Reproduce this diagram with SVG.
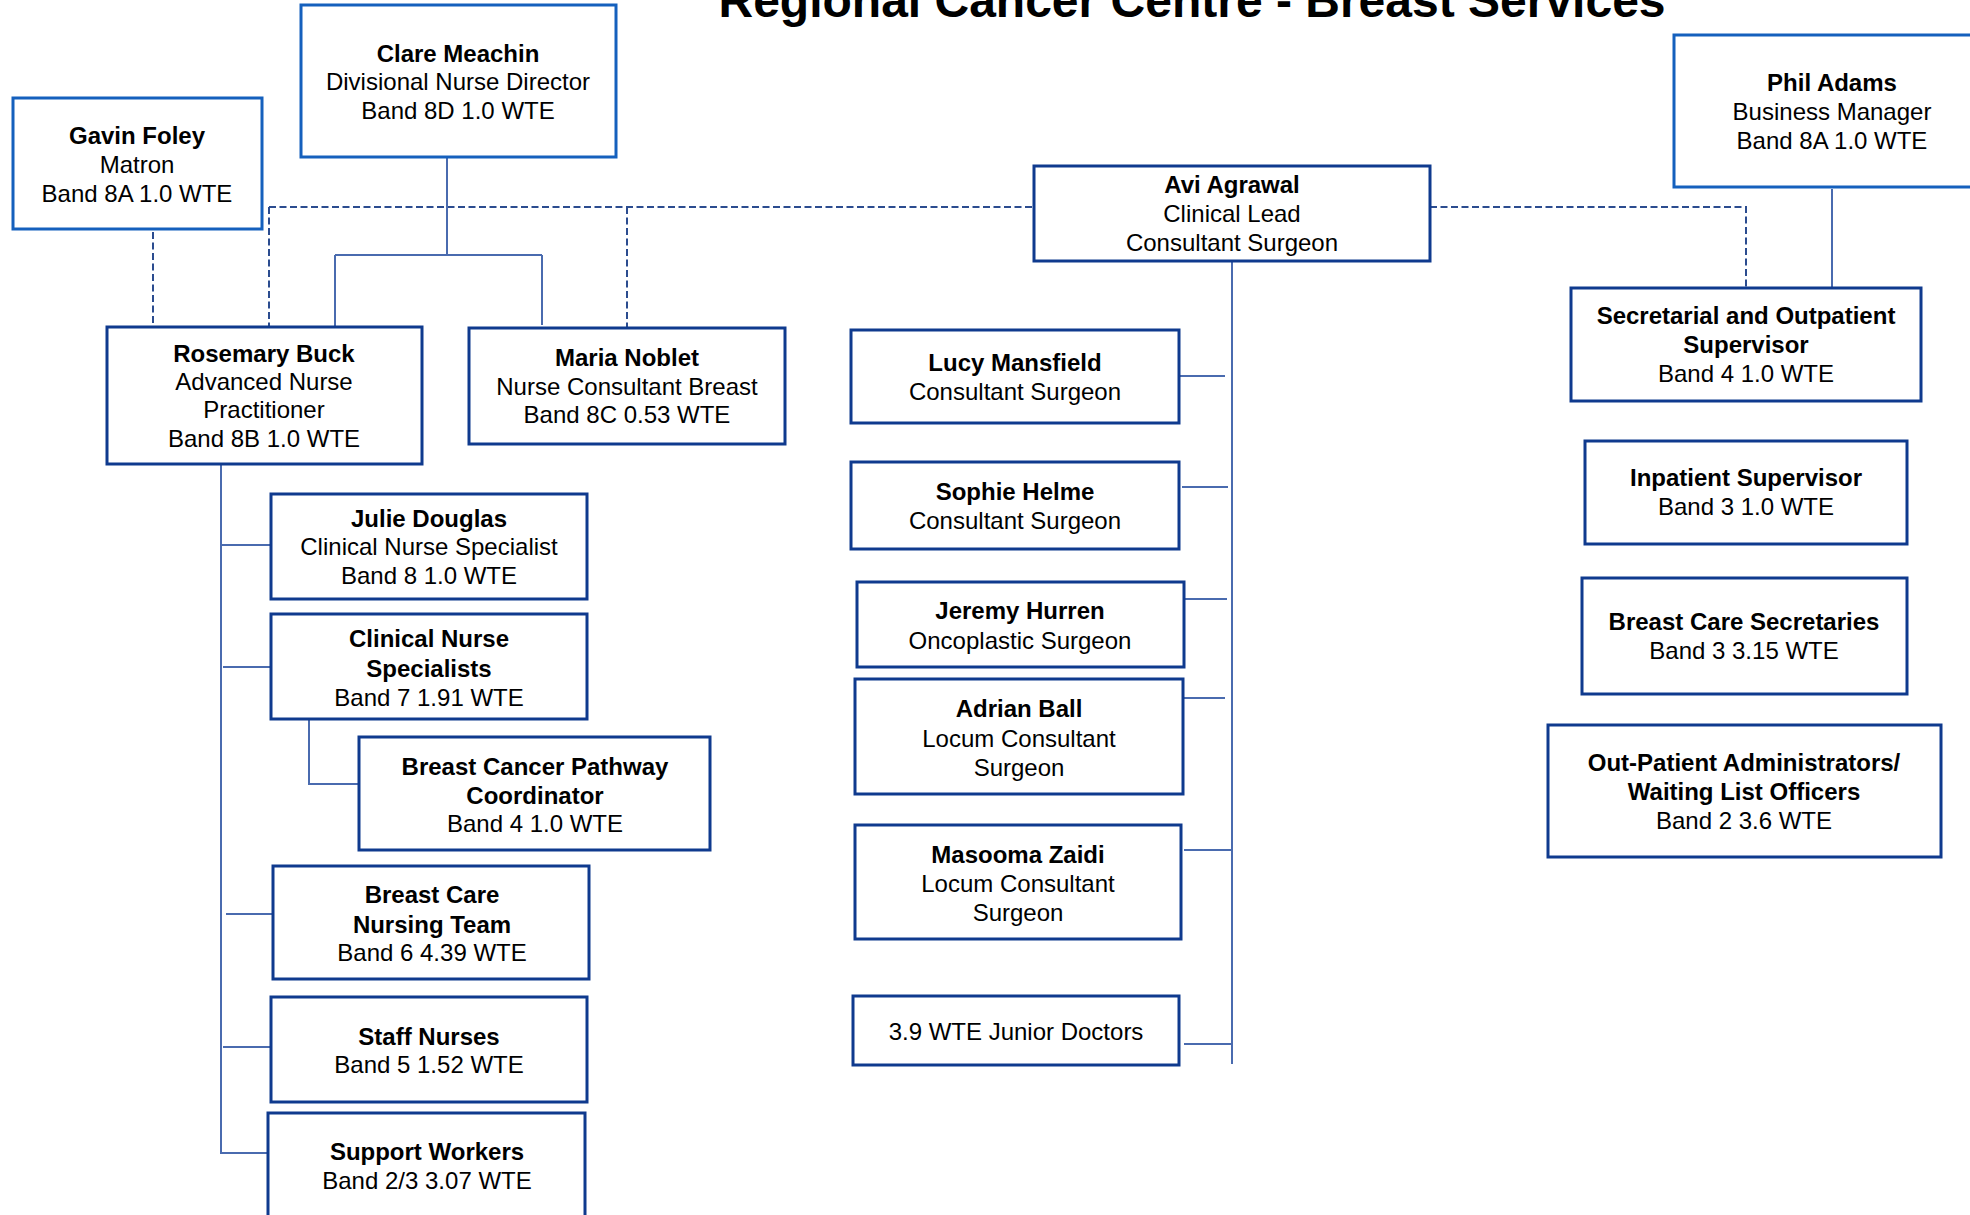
<svg xmlns="http://www.w3.org/2000/svg" width="1970" height="1215" viewBox="0 0 1970 1215">
<style>
text{font-family:"Liberation Sans",Arial,sans-serif;font-size:24px;fill:#000;text-anchor:middle}
.t{font-size:48px;font-weight:bold}
.b{font-weight:bold}
.bx{fill:#fff;stroke:#0F3A8E;stroke-width:3}
.br{fill:#fff;stroke:#1560BD;stroke-width:3}
.ln{fill:none;stroke:#4A6BAF;stroke-width:2}
.ds{fill:none;stroke:#2B4C8F;stroke-width:2;stroke-dasharray:7 3.5}
</style>
<rect width="1970" height="1215" fill="#fff"/>
<text class="t" x="1192" y="17">Regional Cancer Centre - Breast Services</text>
<g id="connectors">
<path class="ds" d="M269,207 H1034 M269,207 V326 M627,207 V328 M1430,207 H1746 V289 M153,232 V349"/>
<path class="ln" d="M447,158 V255 M335,255 H542 M335,255 V328 M542,255 V325"/>
<path class="ln" d="M1232,262 V1064 M1179,376 H1225 M1182,487 H1228 M1178,599 H1227 M1177,698 H1225 M1184,850 H1232 M1184,1044 H1232"/>
<path class="ln" d="M1832,189 V287"/>
<path class="ln" d="M221,465 V1153 H268 M221,545 H271 M223,667 H271 M226,914 H273 M223,1047 H271 M309,719 V784 H359"/>
</g>
<g id="clare"><rect class="br" x="301" y="5" width="315" height="152"/>
<text class="b" x="458" y="62">Clare Meachin</text><text x="458" y="90">Divisional Nurse Director</text><text x="458" y="119">Band 8D 1.0 WTE</text></g>
<g id="gavin"><rect class="br" x="13" y="98" width="249" height="131"/>
<text class="b" x="137" y="144">Gavin Foley</text><text x="137" y="173">Matron</text><text x="137" y="202">Band 8A 1.0 WTE</text></g>
<g id="rosemary"><rect class="bx" x="107" y="327" width="315" height="137"/>
<text class="b" x="264" y="362">Rosemary Buck</text><text x="264" y="390">Advanced Nurse</text><text x="264" y="418">Practitioner</text><text x="264" y="447">Band 8B 1.0 WTE</text></g>
<g id="maria"><rect class="bx" x="469" y="328" width="316" height="116"/>
<text class="b" x="627" y="366">Maria Noblet</text><text x="627" y="395">Nurse Consultant Breast</text><text x="627" y="423">Band 8C 0.53 WTE</text></g>
<g id="avi"><rect class="bx" x="1034" y="166" width="396" height="95"/>
<text class="b" x="1232" y="193">Avi Agrawal</text><text x="1232" y="222">Clinical Lead</text><text x="1232" y="251">Consultant Surgeon</text></g>
<g id="phil"><rect class="br" x="1674" y="35" width="330" height="152"/>
<text class="b" x="1832" y="91">Phil Adams</text><text x="1832" y="120">Business Manager</text><text x="1832" y="149">Band 8A 1.0 WTE</text></g>
<g id="secretarial"><rect class="bx" x="1571" y="288" width="350" height="113"/>
<text class="b" x="1746" y="324">Secretarial and Outpatient</text><text class="b" x="1746" y="353">Supervisor</text><text x="1746" y="382">Band 4 1.0 WTE</text></g>
<g id="inpatient"><rect class="bx" x="1585" y="441" width="322" height="103"/>
<text class="b" x="1746" y="486">Inpatient Supervisor</text><text x="1746" y="515">Band 3 1.0 WTE</text></g>
<g id="bcsec"><rect class="bx" x="1582" y="578" width="325" height="116"/>
<text class="b" x="1744" y="630">Breast Care Secretaries</text><text x="1744" y="659">Band 3 3.15 WTE</text></g>
<g id="outpatient"><rect class="bx" x="1548" y="725" width="393" height="132"/>
<text class="b" x="1744" y="771">Out-Patient Administrators/</text><text class="b" x="1744" y="800">Waiting List Officers</text><text x="1744" y="829">Band 2 3.6 WTE</text></g>
<g id="lucy"><rect class="bx" x="851" y="330" width="328" height="93"/>
<text class="b" x="1015" y="371">Lucy Mansfield</text><text x="1015" y="400">Consultant Surgeon</text></g>
<g id="sophie"><rect class="bx" x="851" y="462" width="328" height="87"/>
<text class="b" x="1015" y="500">Sophie Helme</text><text x="1015" y="529">Consultant Surgeon</text></g>
<g id="jeremy"><rect class="bx" x="857" y="582" width="327" height="85"/>
<text class="b" x="1020" y="619">Jeremy Hurren</text><text x="1020" y="649">Oncoplastic Surgeon</text></g>
<g id="adrian"><rect class="bx" x="855" y="679" width="328" height="115"/>
<text class="b" x="1019" y="717">Adrian Ball</text><text x="1019" y="747">Locum Consultant</text><text x="1019" y="776">Surgeon</text></g>
<g id="masooma"><rect class="bx" x="855" y="825" width="326" height="114"/>
<text class="b" x="1018" y="863">Masooma Zaidi</text><text x="1018" y="892">Locum Consultant</text><text x="1018" y="921">Surgeon</text></g>
<g id="junior"><rect class="bx" x="853" y="996" width="326" height="69"/>
<text x="1016" y="1040">3.9 WTE Junior Doctors</text></g>
<g id="julie"><rect class="bx" x="271" y="494" width="316" height="105"/>
<text class="b" x="429" y="527">Julie Douglas</text><text x="429" y="555">Clinical Nurse Specialist</text><text x="429" y="584">Band 8 1.0 WTE</text></g>
<g id="cns"><rect class="bx" x="271" y="614" width="316" height="105"/>
<text class="b" x="429" y="647">Clinical Nurse</text><text class="b" x="429" y="677">Specialists</text><text x="429" y="706">Band 7 1.91 WTE</text></g>
<g id="bcpc"><rect class="bx" x="359" y="737" width="351" height="113"/>
<text class="b" x="535" y="775">Breast Cancer Pathway</text><text class="b" x="535" y="804">Coordinator</text><text x="535" y="832">Band 4 1.0 WTE</text></g>
<g id="bcnt"><rect class="bx" x="273" y="866" width="316" height="113"/>
<text class="b" x="432" y="903">Breast Care</text><text class="b" x="432" y="933">Nursing Team</text><text x="432" y="961">Band 6 4.39 WTE</text></g>
<g id="staff"><rect class="bx" x="271" y="997" width="316" height="105"/>
<text class="b" x="429" y="1045">Staff Nurses</text><text x="429" y="1073">Band 5 1.52 WTE</text></g>
<g id="support"><rect class="bx" x="268" y="1113" width="317" height="130"/>
<text class="b" x="427" y="1160">Support Workers</text><text x="427" y="1189">Band 2/3 3.07 WTE</text></g>
</svg>
